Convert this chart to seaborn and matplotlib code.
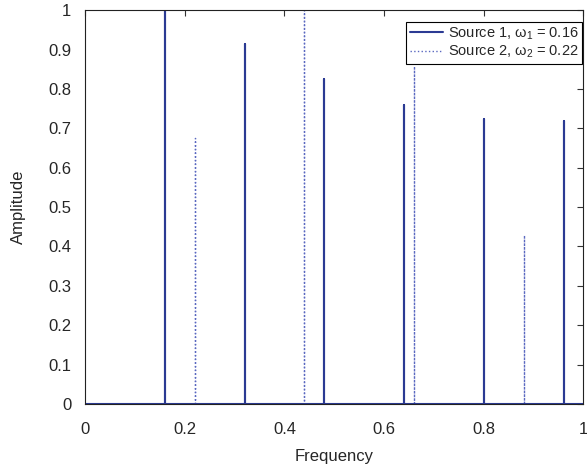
import matplotlib
matplotlib.use('Agg')
import numpy as np
import pandas as pd
import matplotlib.pyplot as plt
import seaborn as sns

# =====================================================
#  DATOS
# =====================================================
freq_s1 = [0.16, 0.32, 0.48, 0.64, 0.80, 0.96]
amp_s1 = [1.00, 0.915, 0.825, 0.76, 0.724, 0.72]

freq_s2 = [0.22, 0.44, 0.66, 0.88]
amp_s2 = [0.676, 1.00, 0.86, 0.43]

label_s1 = r"Source 1, $\omega_1$ = 0.16"
label_s2 = r"Source 2, $\omega_2$ = 0.22"


def spectrum(freqs, amps):
    # linea base en 0 con picos verticales
    xs, ys = [0.0], [0.0]
    for f, a in zip(freqs, amps):
        xs += [f, f, f]
        ys += [0.0, a, 0.0]
    xs.append(1.0)
    ys.append(0.0)
    return pd.DataFrame({"Frequency": xs, "Amplitude": ys})


df1 = spectrum(freq_s1, amp_s1)
df2 = spectrum(freq_s2, amp_s2)

# =====================================================
#  FIGURA
# =====================================================
sns.set_style("white")
plt.rcParams['font.family'] = ['Liberation Sans', 'DejaVu Sans']
plt.rcParams['mathtext.fontset'] = 'custom'
plt.rcParams['mathtext.rm'] = 'Liberation Sans'
plt.rcParams['mathtext.it'] = 'Liberation Sans'

fig = plt.figure(figsize=(5.87, 4.74), dpi=100)
ax = fig.add_axes([0.145, 0.148, 0.849, 0.830])

sns.lineplot(data=df2, x="Frequency", y="Amplitude", ax=ax, sort=False,
             estimator=None, color="#5a68c0", linestyle=":", linewidth=1.0,
             label=label_s2)
sns.lineplot(data=df1, x="Frequency", y="Amplitude", ax=ax, sort=False,
             estimator=None, color="#2b3a93", linestyle="-", linewidth=1.5,
             label=label_s1)

ax.set_xlim(0, 1)
ax.set_ylim(0, 1)
ax.set_xticks(np.arange(0, 1.01, 0.2))
ax.set_yticks(np.arange(0, 1.01, 0.1))
ax.set_xticklabels(["0", "0.2", "0.4", "0.6", "0.8", "1"])
ax.set_yticklabels(["0"] + [f"{v:.1f}" for v in np.arange(0.1, 0.95, 0.1)] + ["1"])
ax.tick_params(which="both", direction="in", top=True, right=True,
               length=4, width=0.8, labelsize=12, color="#333333")
ax.tick_params(axis="y", pad=10)
ax.tick_params(axis="x", pad=13)
ax.set_xlabel("Frequency", fontsize=12, labelpad=9)
ax.set_ylabel("Amplitude", fontsize=12, labelpad=16)
for s in ax.spines.values():
    s.set_color("#222222")
    s.set_linewidth(0.8)

handles, labels = ax.get_legend_handles_labels()
leg = ax.legend(handles[::-1], labels[::-1], loc="upper right",
                bbox_to_anchor=(0.997, 0.971), fontsize=10.5,
                frameon=True, fancybox=False, framealpha=1, edgecolor="black",
                borderpad=0.25, labelspacing=0.15, handlelength=2.3,
                borderaxespad=0, handletextpad=0.3)
leg.get_frame().set_linewidth(0.8)

plt.savefig("out.png", dpi=100)
plt.close()
